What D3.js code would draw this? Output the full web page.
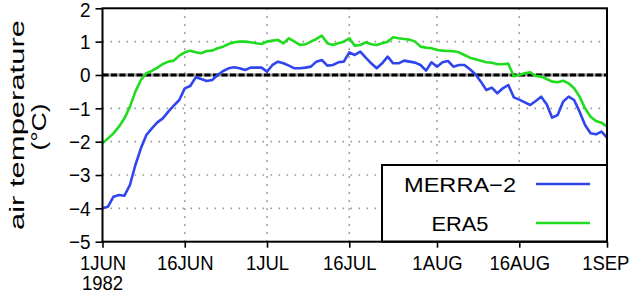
<!DOCTYPE html>
<html>
<head>
<meta charset="utf-8">
<script src="https://cdn.jsdelivr.net/npm/d3@7"></script>
<style>
  body { margin: 0; background: #fff; }
  svg text { font-family: "Liberation Sans", Arial, sans-serif; fill: #000; }
</style>
</head>
<body>
<script>
let w = 630;
let h = 292;
let plotLeft = 102.5, plotRight = 607, plotTop = 8.3, plotBottom = 241.7;

let parseDay = d3.utcParse("%Y-%m-%d");
let startDate = "1982-06-01";

// daily values, 1 Jun .. 1 Sep 1982
let merra2 = [
  -4.0, -3.95, -3.65, -3.6, -3.62, -3.3, -2.7, -2.2, -1.8, -1.6,
  -1.42, -1.3, -1.1, -0.92, -0.75, -0.4, -0.33, -0.07, -0.12, -0.18,
  -0.15, 0.0, 0.12, 0.2, 0.23, 0.2, 0.15, 0.22, 0.22, 0.22,
  0.1, 0.3, 0.4, 0.35, 0.28, 0.2, 0.2, 0.22, 0.25, 0.4,
  0.45, 0.28, 0.3, 0.38, 0.4, 0.68, 0.6, 0.7, 0.52, 0.35,
  0.2, 0.35, 0.55, 0.35, 0.35, 0.43, 0.4, 0.37, 0.3, 0.13,
  0.38, 0.25, 0.38, 0.42, 0.25, 0.3, 0.3, 0.17, 0.02, -0.2,
  -0.45, -0.38, -0.55, -0.4, -0.3, -0.67, -0.74, -0.82, -0.9, -0.78,
  -0.65, -0.88, -1.28, -1.2, -0.8, -0.65, -0.75, -1.1, -1.5, -1.75,
  -1.78, -1.7, -1.88
];
let era5 = [
  -2.05, -1.9, -1.75, -1.55, -1.3, -0.95, -0.5, -0.15, 0.05, 0.12,
  0.22, 0.33, 0.4, 0.43, 0.58, 0.68, 0.73, 0.68, 0.65, 0.72,
  0.73, 0.8, 0.85, 0.93, 0.98, 1.0, 1.0, 0.98, 0.95, 0.93,
  1.0, 1.03, 1.05, 0.95, 1.1, 1.0, 0.9, 0.92, 1.0, 1.08,
  1.18, 0.95, 0.9, 0.95, 1.0, 1.1, 0.88, 0.9, 0.98, 0.92,
  0.9, 0.95, 1.0, 1.13, 1.1, 1.08, 1.06, 1.0, 0.85, 0.82,
  0.8, 0.75, 0.73, 0.72, 0.71, 0.68, 0.6, 0.52, 0.47, 0.43,
  0.38, 0.37, 0.32, 0.32, 0.34, -0.04, 0.0, 0.05, 0.08, -0.03,
  -0.05, -0.12, -0.2, -0.22, -0.17, -0.25, -0.4, -0.65, -1.0, -1.25,
  -1.38, -1.43, -1.55
];

let tickDates = ["1982-06-01", "1982-06-16", "1982-07-01", "1982-07-16", "1982-08-01", "1982-08-16", "1982-09-01"];
let tickLabels = ["1JUN", "16JUN", "1JUL", "16JUL", "1AUG", "16AUG", "1SEP"];
let yTicks = [-5, -4, -3, -2, -1, 0, 1, 2];
let seriesNames = ["MERRA\u22122", "ERA5"];
let seriesColors = ["#2f45ee", "#1fdc1f"];

let start = parseDay(startDate);
let ticks = tickDates.map(parseDay);

let xScale = d3.scaleUtc()
  .domain([start, ticks[ticks.length - 1]])
  .range([plotLeft, plotRight]);

let yScale = d3.scaleLinear()
  .domain([-5, 2])
  .range([plotBottom, plotTop]);

let svg = d3.select("body")
  .append("svg")
  .attr("width", w)
  .attr("height", h);

// grid
svg.selectAll("line.hgrid")
  .data(yTicks.filter((d) => d > -5 && d < 2 && d != 0))
  .enter()
  .append("line")
  .attr("class", "hgrid")
  .attr("x1", plotLeft).attr("x2", plotRight)
  .attr("y1", (d) => yScale(d)).attr("y2", (d) => yScale(d))
  .attr("stroke", "#999")
  .attr("stroke-width", 1.6)
  .attr("stroke-dasharray", "1.6,6.4");

svg.selectAll("line.vgrid")
  .data(ticks.slice(1, -1))
  .enter()
  .append("line")
  .attr("class", "vgrid")
  .attr("x1", (d) => xScale(d)).attr("x2", (d) => xScale(d))
  .attr("y1", plotTop).attr("y2", plotBottom)
  .attr("stroke", "#999")
  .attr("stroke-width", 1.6)
  .attr("stroke-dasharray", "1.6,6.4");

// zero line
svg.append("line")
  .attr("x1", plotLeft).attr("x2", plotRight)
  .attr("y1", yScale(0)).attr("y2", yScale(0))
  .attr("stroke", "#999")
  .attr("stroke-width", 3);
svg.append("line")
  .attr("x1", plotLeft).attr("x2", plotRight)
  .attr("y1", yScale(0)).attr("y2", yScale(0))
  .attr("stroke", "#000")
  .attr("stroke-width", 3)
  .attr("stroke-dasharray", "6,2.5");

// curves
let line = d3.line()
  .x((d, i) => xScale(d3.utcDay.offset(start, i)))
  .y((d) => yScale(d));

[merra2, era5].forEach((s, k) => {
  svg.append("path")
    .datum(s)
    .attr("d", line)
    .attr("fill", "none")
    .attr("stroke", seriesColors[k])
    .attr("stroke-width", 2.6)
    .attr("stroke-linejoin", "round");
});

// legend
let lg = svg.append("g");
lg.append("rect")
  .attr("x", 382).attr("y", 165)
  .attr("width", plotRight - 382).attr("height", plotBottom - 165)
  .attr("fill", "#fff")
  .attr("stroke", "#000")
  .attr("stroke-width", 2);
let legendY = [184, 223];
let legendW = [112, 57];
seriesNames.forEach((name, k) => {
  lg.append("text")
    .attr("x", 460)
    .attr("y", legendY[k] + 8)
    .attr("text-anchor", "middle")
    .attr("font-size", 21)
    .attr("textLength", legendW[k])
    .attr("lengthAdjust", "spacingAndGlyphs")
    .text(name);
  lg.append("line")
    .attr("x1", 536).attr("x2", 590)
    .attr("y1", legendY[k]).attr("y2", legendY[k])
    .attr("stroke", seriesColors[k])
    .attr("stroke-width", 2.6);
});

// frame
svg.append("rect")
  .attr("x", plotLeft).attr("y", plotTop)
  .attr("width", plotRight - plotLeft).attr("height", plotBottom - plotTop)
  .attr("fill", "none")
  .attr("stroke", "#000")
  .attr("stroke-width", 2);

// axes
let xAxis = d3.axisBottom(xScale)
  .tickValues(ticks)
  .tickSize(6)
  .tickPadding(7)
  .tickFormat((d, i) => tickLabels[i]);

let yAxis = d3.axisLeft(yScale)
  .tickValues(yTicks)
  .tickSize(7)
  .tickPadding(5)
  .tickFormat((d) => d < 0 ? "\u2212" + Math.abs(d) : d);

let gx = svg.append("g")
  .attr("transform", "translate(0," + plotBottom + ")")
  .call(xAxis);
let gy = svg.append("g")
  .attr("transform", "translate(" + plotLeft + ",0)")
  .call(yAxis);

[gx, gy].forEach((g) => {
  g.select(".domain").remove();
  g.selectAll(".tick line").attr("stroke", "#000").attr("stroke-width", 1.6);
  g.selectAll(".tick text")
    .attr("font-size", 21)
    .attr("font-family", "Liberation Sans, Arial, sans-serif");
});
gx.selectAll(".tick text").attr("transform", "scale(0.88,1)");
// last label sits against the right edge
gx.selectAll(".tick text").filter((d, i) => i == ticks.length - 1).attr("dx", -2);
gy.selectAll(".tick text")
  .attr("x", -12 / 0.9)
  .attr("transform", "scale(0.9,1)");
gy.selectAll(".tick text").filter((d) => d == 2).attr("dy", "0.38em");

// year under first tick
svg.append("text")
  .attr("x", xScale(start))
  .attr("y", 290)
  .attr("text-anchor", "middle")
  .attr("font-size", 21)
  .attr("transform", "translate(" + xScale(start) * 0.12 + ",0) scale(0.88,1)")
  .text("1982");

// y label
svg.append("text")
  .attr("transform", "translate(24,125) rotate(-90)")
  .attr("text-anchor", "middle")
  .attr("font-size", 21)
  .attr("textLength", 210)
  .attr("lengthAdjust", "spacingAndGlyphs")
  .text("air temperature");
svg.append("text")
  .attr("transform", "translate(46,127) rotate(-90)")
  .attr("text-anchor", "middle")
  .attr("font-size", 21)
  .attr("textLength", 47)
  .attr("lengthAdjust", "spacingAndGlyphs")
  .text("(°C)");
</script>
</body>
</html>
